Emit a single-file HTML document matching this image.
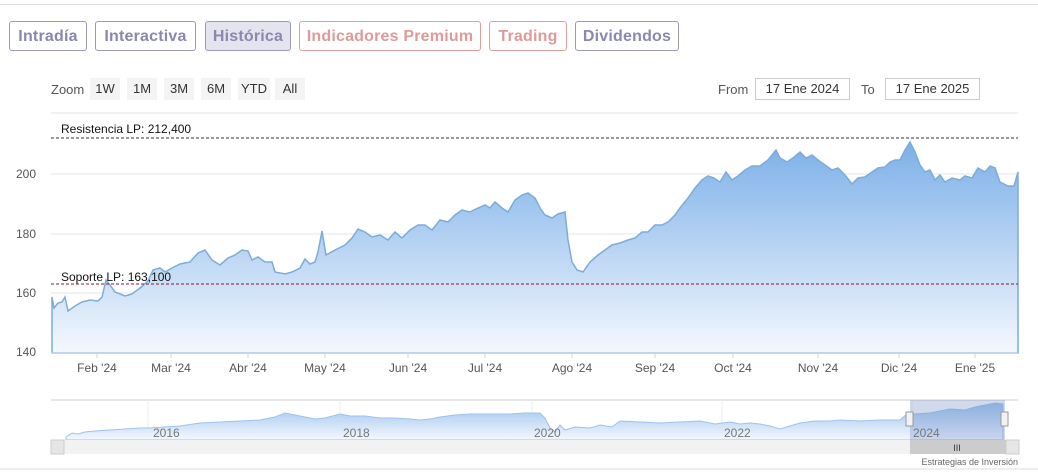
<!DOCTYPE html>
<html><head><meta charset="utf-8"><style>
body{margin:0;width:1038px;height:476px;background:#fff;font-family:"Liberation Sans","DejaVu Sans",sans-serif;overflow:hidden;position:relative}
.tab{position:absolute;top:21px;height:30px;border:1px solid #9a98b8;border-radius:3px;box-sizing:border-box;font-weight:bold;font-size:16px;line-height:30px;text-align:center;color:#8a87b0;letter-spacing:0.2px}
.red{border-color:#e0a0a0;color:#e09a9a}
.btn{position:absolute;top:78px;height:22px;background:#f4f4f4;font-size:13px;line-height:22px;text-align:center;color:#333}
.lbl{position:absolute;font-size:13px;color:#555}
.inp{position:absolute;top:78px;height:22px;border:1px solid #ccc;box-sizing:border-box;font-size:13px;line-height:20px;text-align:center;color:#333}
</style></head><body>
<div style="position:absolute;top:4px;left:0;width:1038px;height:1px;background:#ddd"></div>
<div class="tab" style="left:9px;width:78px">Intradía</div>
<div class="tab" style="left:95px;width:101px">Interactiva</div>
<div class="tab" style="left:205px;width:86px;background:#e4e4ee">Histórica</div>
<div class="tab red" style="left:299px;width:182px">Indicadores Premium</div>
<div class="tab red" style="left:489px;width:78px">Trading</div>
<div class="tab" style="left:575px;width:104px">Dividendos</div>
<div class="lbl" style="left:51px;top:82px">Zoom</div>
<div class="btn" style="left:90px;width:30px">1W</div>
<div class="btn" style="left:127px;width:30px">1M</div>
<div class="btn" style="left:164px;width:30px">3M</div>
<div class="btn" style="left:201px;width:30px">6M</div>
<div class="btn" style="left:238px;width:32px">YTD</div>
<div class="btn" style="left:275px;width:30px">All</div>
<div class="lbl" style="left:718px;top:82px">From</div>
<div class="inp" style="left:755px;width:95px">17 Ene 2024</div>
<div class="lbl" style="left:861px;top:82px">To</div>
<div class="inp" style="left:885px;width:95px">17 Ene 2025</div>
<svg width="1038" height="476" style="position:absolute;left:0;top:0">
<defs>
<linearGradient id="g" x1="0" y1="0" x2="0" y2="1"><stop offset="0" stop-color="#7cb0e8"/><stop offset="1" stop-color="#f4f8fe"/></linearGradient>
<linearGradient id="g2" x1="0" y1="0" x2="0" y2="1"><stop offset="0" stop-color="#9cc3ee"/><stop offset="1" stop-color="#f4f8fe"/></linearGradient>
</defs>
<line x1="51" y1="113" x2="1018" y2="113" stroke="#e6e6e6"/>
<g stroke="#e6e6e6"><line x1="51" y1="174" x2="1018" y2="174"/><line x1="51" y1="234" x2="1018" y2="234"/><line x1="51" y1="293" x2="1018" y2="293"/></g>
<g font-size="12" fill="#555" text-anchor="end"><text x="36" y="178">200</text><text x="36" y="238">180</text><text x="36" y="297">160</text><text x="36" y="356">140</text></g>
<path d="M52,297 L54,308 58,303 62,302 65,297 68,311 75,306 82,302 90,300 98,301 102,297 106,280 110,285 115,292 125,296 132,294 140,288 148,281 153,270 160,268 165,272 172,268 180,264 190,262 198,253 205,250 212,260 220,265 228,258 235,255 242,250 248,251 252,260 258,257 265,262 272,262 275,272 285,274 292,272 300,268 305,259 310,264 315,262 318,252 322,231 326,255 335,250 345,245 352,238 358,229 365,232 372,237 380,235 388,240 395,232 402,238 410,230 418,225 425,225 432,230 440,220 448,222 455,215 462,210 470,212 478,208 485,205 490,208 495,202 502,208 508,212 515,200 522,195 528,193 535,198 540,208 545,215 552,218 558,214 565,212 568,240 572,262 577,270 583,272 590,262 598,255 605,250 612,245 620,243 628,240 635,238 642,232 648,232 655,225 662,225 668,222 675,215 680,208 688,198 695,188 702,180 708,176 714,178 720,182 726,172 732,180 738,176 745,170 752,166 760,166 768,160 776,150 780,158 787,162 793,158 800,152 806,158 812,155 818,160 825,165 832,170 838,168 845,175 852,184 858,178 865,177 872,172 878,168 885,167 890,162 895,160 900,160 905,150 910,142 915,152 920,165 925,172 930,170 935,180 940,175 945,182 952,178 960,180 965,176 972,178 978,168 985,172 990,166 995,168 1000,182 1008,186 1014,186 1018,172 L1018,353 52,353Z" fill="url(#g)" stroke="#7cacd8" stroke-width="1.5"/>
<line x1="51" y1="353" x2="1018" y2="353" stroke="#ccd6eb"/>
<line x1="51" y1="138" x2="1018" y2="138" stroke="#333" stroke-dasharray="3,2"/>
<line x1="51" y1="284" x2="1018" y2="284" stroke="#8b1a2a" stroke-dasharray="3,2"/>
<g font-size="12" fill="#111"><text x="61" y="133">Resistencia LP: 212,400</text><text x="61" y="281">Soporte LP: 163,100</text></g>
<g font-size="12" fill="#555" text-anchor="middle"><text x="97" y="372">Feb '24</text><text x="171" y="372">Mar '24</text><text x="248" y="372">Abr '24</text><text x="325" y="372">May '24</text><text x="408" y="372">Jun '24</text><text x="485" y="372">Jul '24</text><text x="572" y="372">Ago '24</text><text x="655" y="372">Sep '24</text><text x="733" y="372">Oct '24</text><text x="818" y="372">Nov '24</text><text x="899" y="372">Dic '24</text><text x="975" y="372">Ene '25</text></g>
<g stroke="#ccd6eb"><line x1="97" y1="353" x2="97" y2="358"/><line x1="171" y1="353" x2="171" y2="358"/><line x1="248" y1="353" x2="248" y2="358"/><line x1="325" y1="353" x2="325" y2="358"/><line x1="408" y1="353" x2="408" y2="358"/><line x1="485" y1="353" x2="485" y2="358"/><line x1="572" y1="353" x2="572" y2="358"/><line x1="655" y1="353" x2="655" y2="358"/><line x1="733" y1="353" x2="733" y2="358"/><line x1="818" y1="353" x2="818" y2="358"/><line x1="899" y1="353" x2="899" y2="358"/><line x1="975" y1="353" x2="975" y2="358"/></g>
<line x1="51" y1="400" x2="1018" y2="400" stroke="#ccc"/>
<g stroke="#eee"><line x1="148" y1="400" x2="148" y2="440"/><line x1="340" y1="400" x2="340" y2="440"/><line x1="532" y1="400" x2="532" y2="440"/><line x1="722" y1="400" x2="722" y2="440"/><line x1="912" y1="400" x2="912" y2="440"/></g>
<path d="M66,437 L72,433 78,434 85,432 95,431 110,430 125,429 140,428 150,428 165,427 180,426 200,423 220,422 240,421 260,420 275,417 285,413 290,414 300,416 315,419 325,418 340,414 350,416 365,416 380,418 395,418 410,419 420,420 430,419 440,417 455,415 470,414 490,414 510,414 525,413 540,413 545,418 550,428 555,432 560,425 565,430 575,427 590,428 600,425 612,427 620,421 640,422 660,423 680,422 700,421 715,424 730,422 740,424 750,423 760,424 770,426 780,429 790,426 800,423 815,421 830,421 840,420 860,421 880,420 900,420 908,413 915,414 930,413 950,409 965,410 975,407 985,405 995,403 1003,404 L1003,440 66,440Z" fill="url(#g2)" stroke="#9cc3ee"/>
<rect x="910" y="400" width="95" height="40" fill="rgba(102,133,194,0.3)"/>
<rect x="906" y="412" width="7" height="14" fill="#f2f2f2" stroke="#999"/>
<rect x="1001" y="412" width="7" height="14" fill="#f2f2f2" stroke="#999"/>
<g font-size="12" fill="#777"><text x="153" y="437">2016</text><text x="343" y="437">2018</text><text x="534" y="437">2020</text><text x="724" y="437">2022</text><text x="913" y="437">2024</text></g>
<rect x="51" y="440" width="968" height="14" fill="#f2f2f2"/>
<rect x="51" y="440" width="13" height="14" fill="#e6e6e6" stroke="#ccc"/>
<rect x="1006" y="440" width="13" height="14" fill="#e6e6e6" stroke="#ccc"/>
<rect x="910" y="440" width="96" height="14" fill="#ccc"/>
<text x="957" y="451" font-size="9" fill="#333" text-anchor="middle">III</text>
<text x="1018" y="465" font-size="9" fill="#666" text-anchor="end">Estrategias de Inversión</text>
<line x1="0" y1="469" x2="1038" y2="469" stroke="#ddd"/>
</svg>
</body></html>
